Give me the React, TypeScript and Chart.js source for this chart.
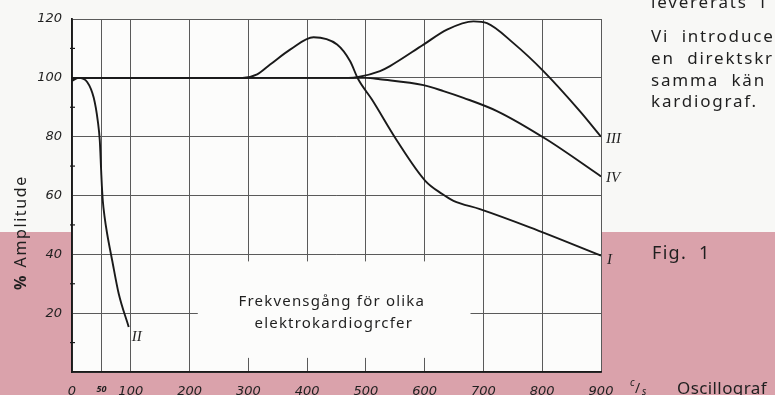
import React, { useEffect, useRef } from 'react';
import { Chart, registerables } from 'chart.js';

Chart.register(...registerables);

// ---- data ----
const freqTicks = [0, 50, 100, 200, 300, 400, 500, 600, 700, 800, 900];
const ampTicks = [0, 20, 40, 60, 80, 100, 120];
const ampMinorTicks = [10, 30, 50, 70, 90, 110];

const curveIFreq = [0, 290, 315, 337, 371, 411, 451, 473, 487, 510, 553, 601, 630, 649, 694, 779, 900];
const curveIAmp = [100, 100, 101.2, 104.5, 109.6, 113.8, 111.3, 105.7, 99.5, 92.7, 78.6, 65, 60.5, 58.2, 55.4, 49.2, 39.6];

const curveIIFreq = [0, 11, 25.8, 37, 43.9, 47.3, 49.6, 50.8, 52.4, 55.2, 59.8, 68.3, 79.5, 96.5];
const curveIIAmp = [99, 100, 98.6, 93.2, 85.3, 78.6, 68.4, 63.3, 58.2, 53.1, 47, 38, 26.6, 15.3];

const curveIIIFreq = [0, 470, 487, 524, 541, 598, 638, 683, 706, 751, 802, 864, 900];
const curveIIIAmp = [100, 100, 100.3, 102.3, 104, 111.3, 116.4, 119.2, 118.6, 111.8, 102.3, 88.7, 80];

const curveIVFreq = [0, 500, 524, 598, 632, 666, 723, 807, 900];
const curveIVAmp = [100, 100, 99.5, 97.5, 95.5, 93.2, 88.7, 79.1, 66.5];

const curveNames = ['I', 'II', 'III', 'IV'];

const yAxisTitle = 'Amplitude';
const unitText = ['c', '/', 's'];
const boxTitle = ['Frekvensgång för olika', 'elektrokardiogrcfer'];
const sideLines = ['levererats  f', 'Vi  introduce', 'en  direktskr', 'samma  kän', 'kardiograf.'];
const figText = 'Fig.  1';
const bottomRight = 'Oscillograf';

// ---- styles ----
const W = 775;
const H = 395;
const INK = '#1a1a1a';
const TEXT = '#1f1f1f';
const GRID = '#5a5a5a';
const PINK = 'rgb(218,162,171)';
const PAPER = '#f8f8f6';
const SANS = '"Noto Sans", "DejaVu Sans", sans-serif';

export default function App() {
  const ref = useRef<HTMLCanvasElement>(null);

  useEffect(() => {
    const canvas = ref.current!;
    const pts = (fx: number[], ay: number[]) => fx.map((x, i) => ({ x, y: ay[i] }));
    const ds = (label: string, fx: number[], ay: number[]) => ({
      label,
      data: pts(fx, ay),
      borderColor: INK,
      borderWidth: 1.9,
      pointRadius: 0,
      fill: false,
      cubicInterpolationMode: 'monotone' as const,
    });

    const paper = {
      id: 'paper',
      beforeDraw(chart: any) {
        const { ctx, chartArea: a } = chart;
        ctx.save();
        ctx.fillStyle = PAPER;
        ctx.fillRect(0, 0, W, H);
        ctx.fillStyle = PINK;
        ctx.fillRect(0, 232, W, H - 232);
        ctx.fillStyle = '#fcfcfb';
        ctx.fillRect(a.left, a.top, a.right - a.left, a.bottom - a.top);
        ctx.restore();
      },
    };

    const overlay = {
      id: 'overlay',
      beforeDatasetsDraw(chart: any) {
        const { ctx, chartArea: a } = chart;
        const xs = chart.scales.x;
        const ys = chart.scales.y;
        ctx.save();
        // white label box interrupting the grid
        const x1 = xs.getPixelForValue(214);
        const x2 = xs.getPixelForValue(678);
        const y1 = ys.getPixelForValue(37.6);
        const y2 = ys.getPixelForValue(4.8);
        ctx.fillStyle = '#fcfcfb';
        ctx.fillRect(x1, y1, x2 - x1, y2 - y1);
        // minor y ticks
        ctx.strokeStyle = INK;
        ctx.lineWidth = 1.2;
        ampMinorTicks.forEach((v) => {
          const y = ys.getPixelForValue(v);
          ctx.beginPath();
          ctx.moveTo(a.left - 2, y);
          ctx.lineTo(a.left + 3, y);
          ctx.stroke();
        });
        // label box text
        ctx.fillStyle = TEXT;
        ctx.font = `15px ${SANS}`;
        (ctx as any).letterSpacing = '1.2px';
        ctx.textAlign = 'center';
        ctx.textBaseline = 'alphabetic';
        const cx = xs.getPixelForValue(442);
        ctx.fillText(boxTitle[0], cx, 306);
        ctx.fillText(boxTitle[1], cx + 2, 328);
        ctx.restore();
      },
      afterDraw(chart: any) {
        const { ctx } = chart;
        const xs = chart.scales.x;
        const ys = chart.scales.y;
        ctx.save();
        ctx.fillStyle = TEXT;
        ctx.textBaseline = 'alphabetic';
        ctx.textAlign = 'left';
        // curve labels
        ctx.font = `italic 15px "Liberation Serif", serif`;
        const ends: [number[], number[], number, number][] = [
          [curveIFreq, curveIAmp, 6, 8],
          [curveIIFreq, curveIIAmp, 3, 14],
          [curveIIIFreq, curveIIIAmp, 5, 6],
          [curveIVFreq, curveIVAmp, 5, 6],
        ];
        ends.forEach(([fx, ay, dx, dy], i) => {
          const px = xs.getPixelForValue(fx[fx.length - 1]);
          const py = ys.getPixelForValue(ay[ay.length - 1]);
          ctx.fillText(curveNames[i], px + dx, py + dy);
        });
        // y axis title
        ctx.save();
        ctx.translate(26, 290);
        ctx.rotate(-Math.PI / 2);
        ctx.font = `bold 16px ${SANS}`;
        ctx.fillText('%', 0, 0);
        const pw = ctx.measureText('% ').width;
        ctx.font = `16px ${SANS}`;
        (ctx as any).letterSpacing = '1.6px';
        ctx.fillText(yAxisTitle, pw + 4, 0);
        ctx.restore();
        // unit c/s
        ctx.font = `italic 10px ${SANS}`;
        ctx.fillText(unitText[0], 630, 386);
        ctx.font = `14px ${SANS}`;
        ctx.fillText(unitText[1], 635, 393);
        ctx.font = `italic 10px ${SANS}`;
        ctx.fillText(unitText[2], 642, 395);
        // right side text
        ctx.font = `17px ${SANS}`;
        (ctx as any).letterSpacing = '1.8px';
        const bases = [8, 41.5, 63.5, 85.5, 106.5];
        sideLines.forEach((t, i) => ctx.fillText(t, 651, bases[i]));
        ctx.font = `18px ${SANS}`;
        (ctx as any).letterSpacing = '1.3px';
        ctx.fillText(figText, 652, 258.5);
        ctx.font = `17px ${SANS}`;
        (ctx as any).letterSpacing = '0.4px';
        ctx.fillText(bottomRight, 677, 394);
        ctx.restore();
      },
    };

    const chart = new Chart(canvas, {
      type: 'line',
      data: {
        datasets: [
          ds(curveNames[0], curveIFreq, curveIAmp),
          ds(curveNames[1], curveIIFreq, curveIIAmp),
          ds(curveNames[2], curveIIIFreq, curveIIIAmp),
          ds(curveNames[3], curveIVFreq, curveIVAmp),
        ],
      },
      options: {
        responsive: false,
        animation: false,
        devicePixelRatio: 1,
        layout: { padding: { left: 0, right: 174, top: 19, bottom: 0 } },
        plugins: { legend: { display: false }, tooltip: { enabled: false }, title: { display: false } },
        scales: {
          x: {
            type: 'linear',
            min: 0,
            max: 900,
            afterFit: (s: any) => {
              s.height = 23;
            },
            afterBuildTicks: (s: any) => {
              s.ticks = freqTicks.map((v) => ({ value: v }));
            },
            grid: { color: GRID, lineWidth: 1, drawTicks: false },
            border: { color: INK, width: 1.8 },
            ticks: {
              color: TEXT,
              padding: 12,
              maxRotation: 0,
              autoSkip: false,
              font: (c: any) =>
                c.tick && c.tick.value === 50
                  ? { family: SANS, style: 'italic', size: 9, weight: 'bold' }
                  : { family: '"DejaVu Sans", sans-serif', style: 'italic', size: 13 },
              callback: (v: any) => String(v),
            },
          },
          y: {
            type: 'linear',
            min: 0,
            max: 120,
            afterFit: (s: any) => {
              s.width = 72;
            },
            afterBuildTicks: (s: any) => {
              s.ticks = ampTicks.map((v) => ({ value: v }));
            },
            grid: { color: GRID, lineWidth: 1, drawTicks: false },
            border: { color: INK, width: 1.8 },
            ticks: {
              color: TEXT,
              padding: 10,
              font: { family: '"DejaVu Sans", sans-serif', style: 'italic', size: 13 },
              callback: (v: any) => (v === 0 ? '' : String(v)),
            },
          },
        },
      },
      plugins: [paper, overlay],
    });
    return () => chart.destroy();
  }, []);

  return (
    <div style={{ position: 'fixed', left: 0, top: 0, width: W, height: H }}>
      <canvas ref={ref} width={W} height={H} style={{ width: W, height: H, display: 'block' }} />
    </div>
  );
}
